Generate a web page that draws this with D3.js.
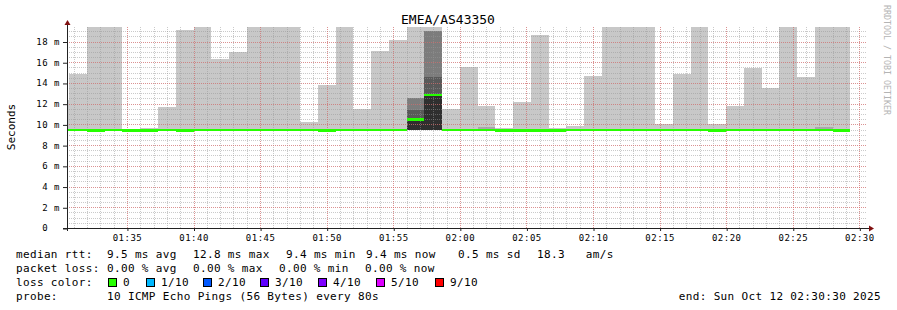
<!DOCTYPE html>
<html>
<head>
<meta charset="utf-8">
<script src="https://cdn.jsdelivr.net/npm/d3@7"></script>
<style>
  body { margin: 0; background: #fff; }
  svg text { font-family: "DejaVu Sans Mono", monospace; white-space: pre; }
</style>
</head>
<body>
<div class="chart"></div>
<script>
// smokeping rrd steps: 80s each, value covers (end - 80s, end]
const stepSeconds = 80;
const firstStepEnd = "2025-10-12T01:30:40Z";
const graphStart = "2025-10-12T01:30:30Z";
const graphEnd = "2025-10-12T02:30:30Z";

// milliseconds
const medianRtt = [9.45, 9.45, 9.42, 9.45, 9.40, 9.42, 9.45, 9.43, 9.46, 9.46,
  9.45, 9.44, 9.45, 9.46, 9.45, 9.42, 9.45, 9.46, 9.46, 9.45,
  10.45, 12.85, 9.45, 9.46, 9.45, 9.43, 9.42, 9.43, 9.43, 9.44,
  9.45, 9.46, 9.45, 9.45, 9.45, 9.45, 9.44, 9.42, 9.45, 9.46,
  9.46, 9.46, 9.45, 9.45, 9.43];
const minRtt = [9.38, 9.38, 9.37, 9.38, 9.36, 9.37, 9.38, 9.37, 9.39, 9.39,
  9.38, 9.38, 9.38, 9.39, 9.38, 9.37, 9.38, 9.39, 9.39, 9.38,
  9.42, 9.42, 9.38, 9.39, 9.38, 9.37, 9.37, 9.37, 9.37, 9.38,
  9.38, 9.39, 9.38, 9.38, 9.38, 9.38, 9.38, 9.37, 9.38, 9.39,
  9.39, 9.39, 9.38, 9.38, 9.37];
const maxRtt = [12.4, 14.85, 19.4, 19.4, 9.6, 9.65, 11.65, 19.15, 19.4, 16.35,
  16.95, 19.4, 19.4, 19.4, 10.2, 13.8, 19.4, 11.5, 17.05, 18.1,
  19.4, 19.4, 11.5, 15.5, 11.8, 9.7, 12.15, 18.6, 9.7, 9.8,
  14.7, 19.4, 19.4, 19.4, 10.05, 14.9, 19.4, 10.05, 11.8, 15.4,
  13.55, 19.4, 14.6, 19.4, 19.4];
// inner smoke: [step index, layer depth, upper edge ms]
const smokeLayers = [
  [20, 2, 12.55], [20, 3, 11.42], [20, 4, 10.6],
  [21, 2, 19.06], [21, 3, 14.58], [21, 4, 12.95],
  [24, 1, 9.72], [43, 1, 9.72]
];

const statNames = ["avg", "max", "min", "now"];
const medianStats = [9.5, 12.8, 9.4, 9.4];
const medianSd = 0.5;
const amPerSecond = 18.3;
const lossStats = [0, 0, 0, 0];
const lossLabels = ["0", "1/10", "2/10", "3/10", "4/10", "5/10", "9/10"];
const yTicks = [0, 2, 4, 6, 8, 10, 12, 14, 16, 18];

const lossColors = ["#26ff00", "#00b8ff", "#0059ff", "#5e00ff", "#7e00ff", "#dd00ff", "#ff0000"];
const layerColors = { 1: "#a8a8a8", 2: "#7c7c7c", 3: "#595959", 4: "#2f2f2f" };

const width = 897, height = 310;
const plot = { left: 67, right: 866, top: 27, bottom: 228 };

const svg = d3.select(".chart").append("svg")
  .attr("width", width)
  .attr("height", height);

svg.append("rect").attr("width", width).attr("height", height).attr("fill", "#fff");

const x = d3.scaleUtc()
  .domain([new Date(graphStart), new Date(graphEnd)])
  .range([plot.left, plot.right]);
const y = d3.scaleLinear()
  .domain([0, 19.4])
  .range([plot.bottom, plot.top]);

const steps = medianRtt.map((m, i) => {
  const end = new Date(Date.parse(firstStepEnd) + i * stepSeconds * 1000);
  return { i, end, start: new Date(end - stepSeconds * 1000), median: m, min: minRtt[i], max: maxRtt[i] };
});

svg.append("defs").append("clipPath").attr("id", "plotClip")
  .append("rect")
  .attr("x", plot.left)
  .attr("y", plot.top)
  .attr("width", plot.right - plot.left)
  .attr("height", plot.bottom - plot.top);

const px = (v) => Math.round(v);

// smoke
const smoke = svg.append("g").attr("clip-path", "url(#plotClip)").attr("shape-rendering", "crispEdges");
smoke.selectAll("rect.smoke")
  .data(steps)
  .enter()
  .append("rect")
  .attr("class", "smoke")
  .attr("x", (d) => px(x(d.start)))
  .attr("width", (d) => px(x(d.end)) - px(x(d.start)))
  .attr("y", (d) => px(y(d.max)))
  .attr("height", (d) => px(y(d.min)) - px(y(d.max)))
  .attr("fill", "#c8c8c8");

smoke.selectAll("rect.layer")
  .data(smokeLayers)
  .enter()
  .append("rect")
  .attr("class", "layer")
  .attr("x", (d) => px(x(steps[d[0]].start)))
  .attr("width", (d) => px(x(steps[d[0]].end)) - px(x(steps[d[0]].start)))
  .attr("y", (d) => px(y(d[2])))
  .attr("height", (d) => px(y(steps[d[0]].min)) - px(y(d[2])))
  .attr("fill", (d) => layerColors[d[1]]);

// grid, drawn over the smoke like rrdtool does
const grid = svg.append("g");
const minorX = x.ticks(d3.utcMinute.every(1));
const majorX = x.ticks(d3.utcMinute.every(5));
const minorY = d3.range(1, 39).map((k) => k / 2);
const minorColor = "rgba(150,150,150,0.5)";
const majorColor = "rgba(235,90,90,0.5)";

grid.selectAll("line.vminor")
  .data(minorX)
  .enter()
  .append("line")
  .attr("x1", (d) => px(x(d)) + 0.5)
  .attr("x2", (d) => px(x(d)) + 0.5)
  .attr("y1", plot.bottom)
  .attr("y2", plot.top - 1)
  .attr("stroke", minorColor)
  .attr("stroke-dasharray", "1,1");

grid.selectAll("line.hminor")
  .data(minorY)
  .enter()
  .append("line")
  .attr("x1", plot.left)
  .attr("x2", plot.right)
  .attr("y1", (d) => px(y(d)) + 0.5)
  .attr("y2", (d) => px(y(d)) + 0.5)
  .attr("stroke", minorColor)
  .attr("stroke-dasharray", "1,1");

grid.selectAll("line.vmajor")
  .data(majorX)
  .enter()
  .append("line")
  .attr("x1", (d) => px(x(d)) + 0.5)
  .attr("x2", (d) => px(x(d)) + 0.5)
  .attr("y1", plot.bottom)
  .attr("y2", plot.top - 1)
  .attr("stroke", majorColor)
  .attr("stroke-dasharray", "1,1");

grid.selectAll("line.hmajor")
  .data(yTicks.filter((v) => v > 0))
  .enter()
  .append("line")
  .attr("x1", plot.left)
  .attr("x2", plot.right)
  .attr("y1", (d) => px(y(d)) + 0.5)
  .attr("y2", (d) => px(y(d)) + 0.5)
  .attr("stroke", majorColor)
  .attr("stroke-dasharray", "1,1");

// median band, coloured by loss (all zero loss here)
svg.append("g").attr("clip-path", "url(#plotClip)").attr("shape-rendering", "crispEdges")
  .selectAll("rect")
  .data(steps)
  .enter()
  .append("rect")
  .attr("x", (d) => px(x(d.start)))
  .attr("width", (d) => px(x(d.end)) - px(x(d.start)))
  .attr("y", (d) => y(d.median) - 1.3)
  .attr("height", 2.6)
  .attr("fill", lossColors[0]);

// axes
const axisColor = "#222";
const arrowColor = "#801010";

const xAxis = svg.append("g")
  .attr("transform", `translate(0,${plot.bottom})`)
  .call(d3.axisBottom(x)
    .tickValues(majorX)
    .tickFormat(d3.utcFormat("%H:%M"))
    .tickSize(3)
    .tickPadding(4));
xAxis.select(".domain").remove();
xAxis.selectAll("line").attr("stroke", axisColor).attr("transform", "translate(0.5,0)");
xAxis.selectAll("text")
  .attr("fill", "#000")
  .style("font-size", "9px")
  .style("letter-spacing", "0.5px")
  .style("font-family", "DejaVu Sans Mono");

const yAxis = svg.append("g")
  .attr("transform", `translate(${plot.left},0)`)
  .call(d3.axisLeft(y)
    .tickValues(yTicks)
    .tickFormat((d) => (d === 0 ? "0  " : `${d} m`))
    .tickSize(4)
    .tickPadding(3));
yAxis.select(".domain").remove();
yAxis.selectAll("line").attr("stroke", axisColor).attr("transform", "translate(0,0.5)");
yAxis.selectAll("text")
  .attr("fill", "#000")
  .style("font-size", "9px")
  .style("letter-spacing", "0.5px")
  .style("font-family", "DejaVu Sans Mono");

svg.append("line")
  .attr("x1", plot.left - 4).attr("x2", plot.right + 3)
  .attr("y1", plot.bottom + 0.5).attr("y2", plot.bottom + 0.5)
  .attr("stroke", axisColor);
svg.append("line")
  .attr("x1", plot.left + 0.5).attr("x2", plot.left + 0.5)
  .attr("y1", plot.bottom + 3).attr("y2", plot.top - 3)
  .attr("stroke", axisColor);
svg.append("path")
  .attr("d", `M${plot.left + 0.5},${plot.top - 7} l3,5 h-6 z`)
  .attr("fill", arrowColor);
svg.append("path")
  .attr("d", `M${plot.right + 8},${plot.bottom + 0.5} l-5,-3 v6 z`)
  .attr("fill", arrowColor);

// titles
svg.append("text")
  .attr("x", 448)
  .attr("y", 24)
  .attr("text-anchor", "middle")
  .style("font-size", "13px")
  .text("EMEA/AS43350");

svg.append("text")
  .attr("transform", "translate(15,127) rotate(-90)")
  .attr("text-anchor", "middle")
  .style("font-size", "11px")
  .text("Seconds");

svg.append("text")
  .attr("transform", "translate(884,5) rotate(90)")
  .attr("fill", "#b4b4b4")
  .style("font-size", "8.3px")
  .text("RRDTOOL / TOBI OETIKER");

// legend
const legend = svg.append("g").style("font-size", "11px").style("letter-spacing", "0.35px");

function legendText(xPos, yPos, str) {
  legend.append("text").attr("x", xPos).attr("y", yPos).text(str);
}

const row = [258, 272, 286, 300];

legendText(16, row[0], "median rtt:");
const medianX = [107, 193, 286, 366];
statNames.forEach((name, i) => legendText(medianX[i], row[0], `${medianStats[i].toFixed(1)} ms ${name}`));
legendText(458, row[0], `${medianSd.toFixed(1)} ms sd`);
legendText(537, row[0], `${amPerSecond.toFixed(1)}   am/s`);

legendText(16, row[1], "packet loss:");
const lossX = [107, 193, 279, 365];
statNames.forEach((name, i) => legendText(lossX[i], row[1], `${lossStats[i].toFixed(2)} % ${name}`));

legendText(16, row[2], "loss color:");
const boxX = [108, 146, 203, 260, 318, 376, 435];
lossLabels.forEach((label, i) => {
  legend.append("rect")
    .attr("x", boxX[i] + 0.5)
    .attr("y", row[2] - 7.5)
    .attr("width", 8)
    .attr("height", 8)
    .attr("fill", lossColors[i])
    .attr("stroke", "#000");
  legendText(boxX[i] + 15, row[2], label);
});

legendText(16, row[3], "probe:");
legendText(107, row[3], "10 ICMP Echo Pings (56 Bytes) every 80s");
legend.append("text")
  .attr("x", 881)
  .attr("y", row[3])
  .attr("text-anchor", "end")
  .text("end: Sun Oct 12 02:30:30 2025");
</script>
</body>
</html>
